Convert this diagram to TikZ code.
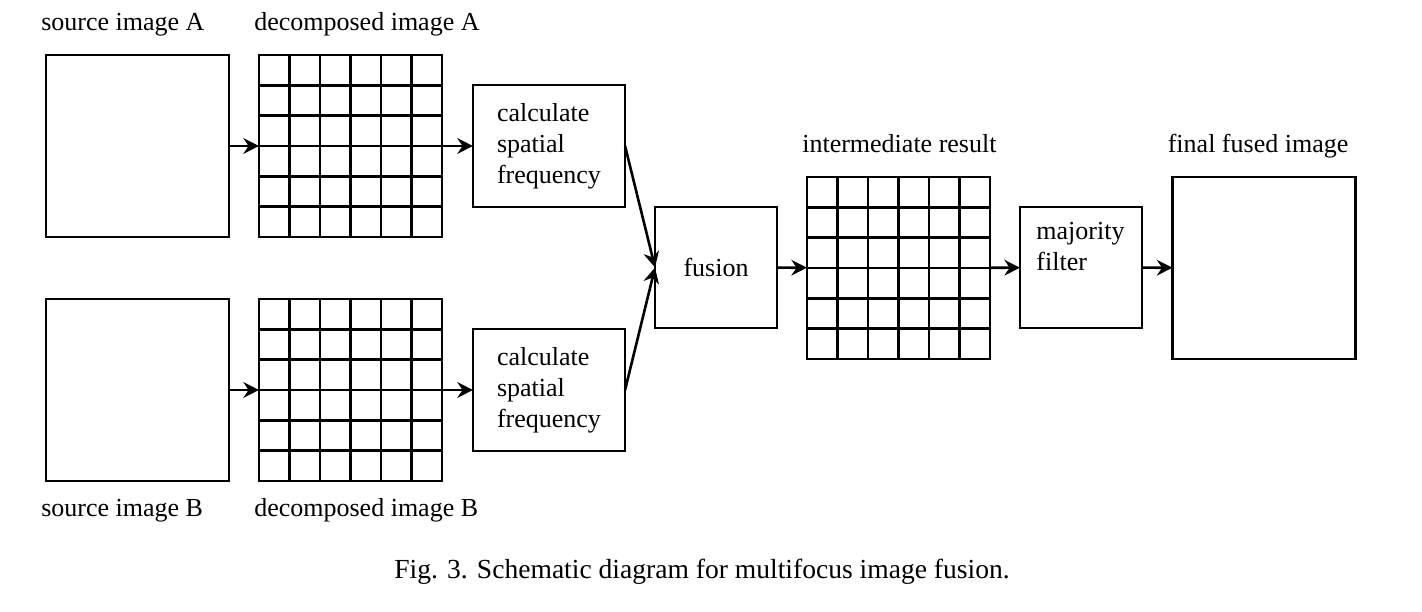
\documentclass[tikz,border=0pt]{standalone}
\usepackage{fontspec}
\setmainfont{Liberation Serif}
\usetikzlibrary{calc,arrows.meta}

\begin{document}
\begin{tikzpicture}[x=0.3846pt,y=-0.3846pt,line width=1pt,
	img/.style={draw,outer sep=0pt,minimum width=70.4pt,minimum height=70pt},
	proc/.style={draw,outer sep=0pt,minimum width=58.5pt,minimum height=46.9pt,align=left},
	op/.style={draw,outer sep=0pt,minimum width=46.9pt,minimum height=46.5pt},
	toplab/.style={anchor=base west,xshift=-2.3pt,yshift=9.6pt,inner sep=0pt},
	botlab/.style={anchor=base west,xshift=-2.3pt,yshift=-13.7pt,inner sep=0pt},
	arr/.style={-{Stealth[length=6pt,width=6pt,inset=2pt]}}]
		\useasboundingbox (0,0) rectangle (1422,612);
		\node[img,label={[toplab]north west:source image A}] (srcA) at (137.5,146) {};
		\node[img,label={[toplab]north west:decomposed image A}] (decA) at (350.5,146) {};
		\node[proc] (calcA) at (549,146) {calculate\\spatial\\frequency};
		\node[img,label={[botlab]south west:source image B}] (srcB) at (137.5,390) {};
		\node[img,label={[botlab]south west:decomposed image B}] (decB) at (350.5,390) {};
		\node[proc] (calcB) at (549,390) {calculate\\spatial\\frequency};
		\node[op] (fus) at (716,267.5) {fusion};
		\node[img,label={[toplab]north west:intermediate result}] (inter) at (898.5,268) {};
		\node[op,label={[anchor=north west,align=left,inner sep=0pt,xshift=5.8pt,yshift=-5.4pt]north west:majority\\filter}] (maj) at (1081,267.5) {};
		\node[img,label={[toplab]north west:final fused image}] (final) at (1264,268) {};
	% grids
	\foreach \g in {decA,decB,inter} {
		\foreach \i in {1,...,5} {
			\draw ($(\g.north west)!\i/6!(\g.north east)$) -- ($(\g.south west)!\i/6!(\g.south east)$);
			\draw ($(\g.north west)!\i/6!(\g.south west)$) -- ($(\g.north east)!\i/6!(\g.south east)$);
		}
	}
	% arrows
		\draw[arr] (srcA) -- (decA);
		\draw[arr] (decA) -- (calcA);
		\draw[arr] (srcB) -- (decB);
		\draw[arr] (decB) -- (calcB);
		\draw[arr] (calcA.east) -- (fus.west);
		\draw[arr] (calcB.east) -- (fus.west);
		\draw[arr] (fus) -- (inter);
		\draw[arr] (inter) -- (maj);
		\draw[arr] (maj) -- (final);
		\node[anchor=base,font=\fontsize{10.6pt}{13pt}\selectfont] (cap) at (702,578) {Fig. 3. Schematic diagram for multifocus image fusion.};
	\end{tikzpicture}
\end{document}
